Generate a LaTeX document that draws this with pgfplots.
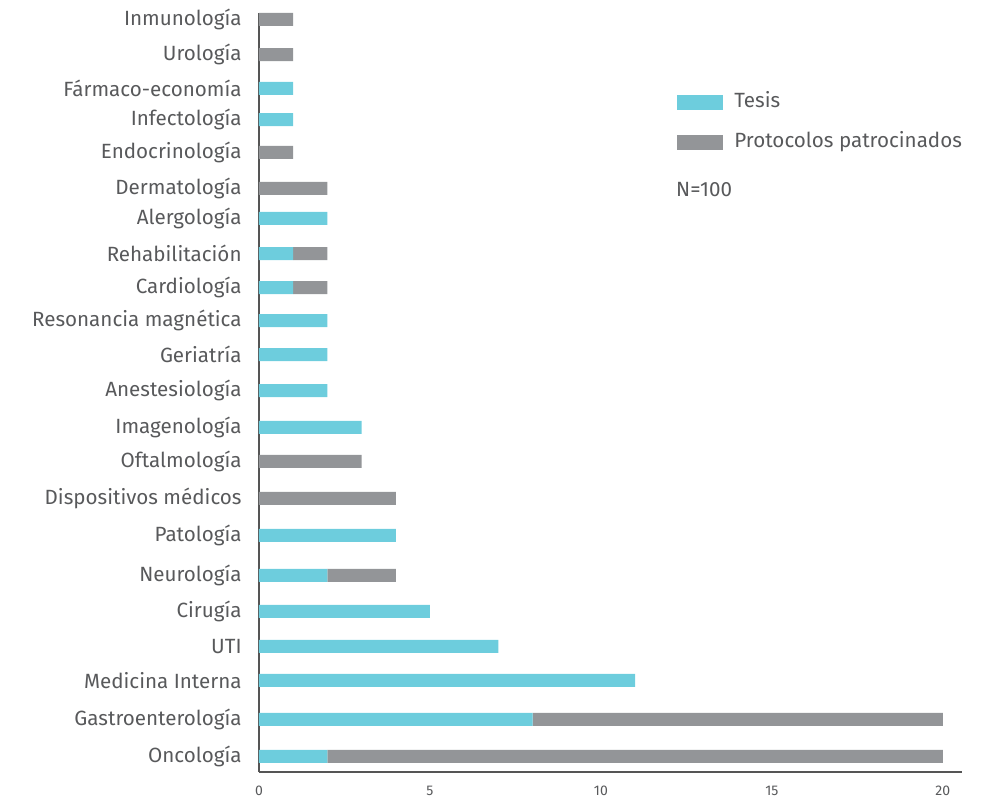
\documentclass[border=0pt]{standalone}
\usepackage{fontspec}
\setmainfont{Fira Sans}
\usepackage{pgfplots}
\usepackage{pgfplotstable}
\pgfplotsset{compat=1.18}

\definecolor{tesis}{HTML}{6DCDDD}
\definecolor{proto}{HTML}{939598}
\definecolor{txt}{HTML}{58595B}
\definecolor{axc}{HTML}{555555}

% y = position of each bar (pixels from top, negated)
\pgfplotstableread{
y       tesis proto label
-19.5   0  1  Inmunología
-54.7   0  1  Urología
-88.3   1  0  Fármaco-economía
-119.7  1  0  Infectología
-152.3  0  1  Endocrinología
-188.3  0  2  Dermatología
-218.3  2  0  Alergología
-253.5  1  1  Rehabilitación
-287.5  1  1  Cardiología
-320.5  2  0  {Resonancia magnética}
-354.5  2  0  Geriatría
-390.5  2  0  Anestesiología
-427.3  3  0  Imagenología
-461.3  0  3  Oftalmología
-498.3  0  4  {Dispositivos médicos}
-535.3  4  0  Patología
-575.3  2  2  Neurología
-611.3  5  0  Cirugía
-646.3  7  0  UTI
-680.3  11 0  {Medicina Interna}
-719.3  8  12 Gastroenterología
-756.3  2  18 Oncología
}\areas

\begin{document}
\begin{tikzpicture}
\begin{axis}[
    scale only axis,
    width=351.5pt, height=379.5pt,
    xbar stacked, bar width=6.5pt,
    legend image code/.code={\fill[#1] (0pt,-3.75pt) rectangle (23pt,3.75pt);},
    xmin=0, xmax=20.56, ymin=-772, ymax=-13,
    axis x line*=bottom, axis y line*=left,
    axis line style={axc, line width=1pt, -},
    major tick length=0pt,
    xtick={0,5,10,15,20},
    ytick=data,
    yticklabels from table={\areas}{label},
    /pgf/number format/assume math mode=true,
    xticklabel style={font=\fontsize{7}{8}\selectfont, text=txt, inner sep=0pt, anchor=north, yshift=-7pt},
    yticklabel style={font=\fontsize{10.3}{12}\selectfont, text=txt, inner sep=0pt, anchor=east, xshift=-8.5pt},
    legend style={at={(0.5946,0.896)}, anchor=north west, draw=none, fill=none,
        inner sep=0pt, row sep=10pt,
        nodes={inner sep=0pt, text=txt, font=\fontsize{10.3}{12}\selectfont, text height=7.5pt, text depth=2.5pt},
        /tikz/every odd column/.append style={column sep=5.5pt}},
    legend cell align=left,
    clip=false,
]
\addplot[fill=tesis, draw=none] table[x=tesis, y=y] {\areas};
\addlegendentry{Tesis}
\addplot[fill=proto, draw=none] table[x=proto, y=y] {\areas};
\addlegendentry{Protocolos patrocinados}
\node[anchor=west, inner sep=0pt, text=txt, font=\fontsize{10.3}{12}\selectfont] at (axis cs:12.19,-190) {N=100};
\coordinate (o) at (axis cs:0,-772);
\end{axis}
\pgfresetboundingbox
\path (o) ++(-129.5pt,-16.5pt) rectangle ++(491.5pt,402.5pt);
\end{tikzpicture}
\end{document}
